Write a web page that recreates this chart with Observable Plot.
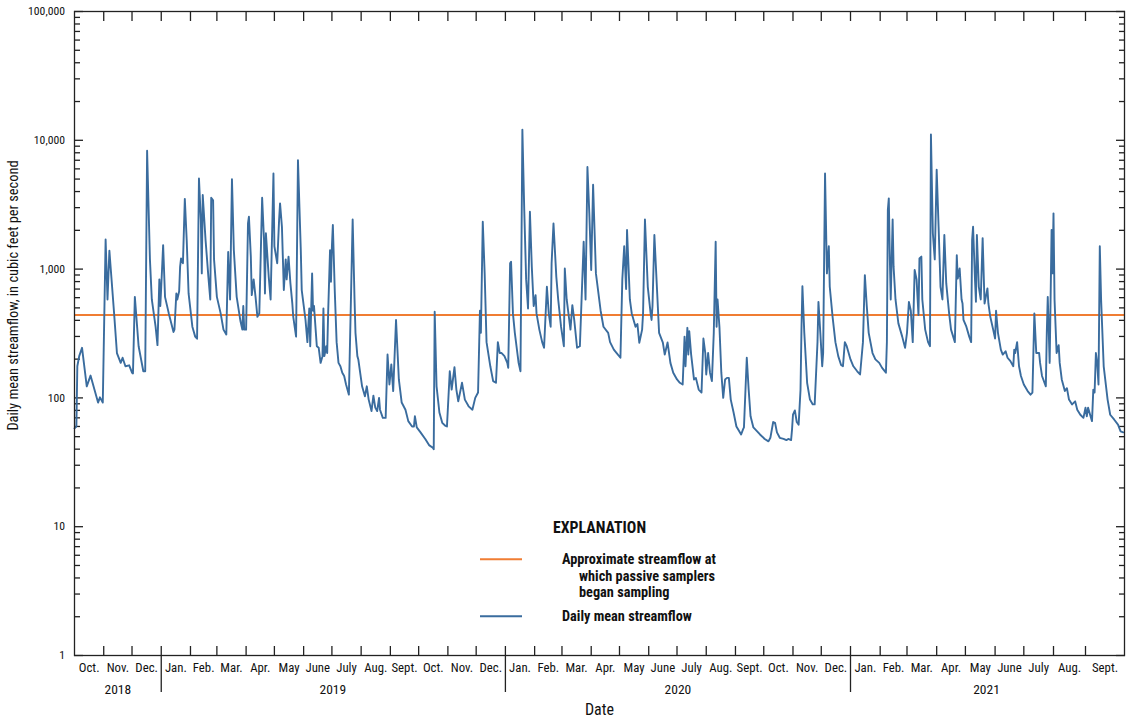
<!DOCTYPE html>
<html>
<head>
<meta charset="utf-8">
<script src="https://cdn.jsdelivr.net/npm/d3@7"></script>
<script src="https://cdn.jsdelivr.net/npm/@observablehq/plot@0.6"></script>
<style>
  html, body { margin: 0; padding: 0; background: #fff; }
  #wrap { position: relative; width: 1130px; height: 725px; }
  svg { font-family: "Liberation Sans Narrow", "Roboto Condensed", "Arial Narrow", "Liberation Sans", sans-serif; }
</style>
</head>
<body>
<div id="wrap"></div>
<script>
// ---- Data ----
// waterDay: days since 2018-10-01 (start of water year 2019)
const waterDay = [0,2,3,5,8,13,17,25,27,30,33,35,37,42,45,49,51,54,58,61,62,64,68,73,75,77,80,82,86,88,90,91,92,94,96,98,100,105,106,108,109,111,112,113,115,117,119,121,125,128,130,132,134,135,136,139,142,144,145,147,148,151,155,158,161,163,165,167,169,172,176,178,179,180,182,184,185,187,188,190,192,194,196,199,201,202,203,206,208,211,212,215,217,218,220,222,224,225,227,229,231,232,235,237,240,241,245,247,249,250,252,253,254,256,257,259,261,263,264,265,267,268,269,271,272,273,274,276,278,280,282,284,286,288,291,295,297,298,300,301,305,308,310,312,315,317,319,321,323,324,327,330,332,334,336,338,341,344,347,351,354,358,360,361,363,367,372,376,380,381,382,384,387,390,393,395,398,400,403,405,407,411,414,418,422,425,428,430,431,433,435,437,441,444,447,449,451,453,456,459,460,462,463,465,467,471,473,475,477,479,481,483,485,487,489,490,493,496,498,501,503,505,506,508,511,513,516,519,520,522,526,528,530,533,536,540,542,544,546,548,550,553,558,561,566,568,572,575,579,581,583,585,586,589,591,595,597,599,602,603,605,608,611,612,613,615,618,620,624,626,629,632,635,639,642,645,647,648,650,651,652,654,657,659,662,665,667,669,670,672,674,676,678,680,681,682,684,686,688,690,692,694,696,699,702,705,707,709,710,713,715,717,720,724,727,732,736,738,741,743,745,748,752,755,757,760,761,762,764,766,768,770,771,772,774,777,780,783,785,788,789,791,793,794,796,798,800,801,804,807,810,813,815,817,819,823,826,830,833,836,838,840,842,846,849,853,856,860,861,862,863,864,865,867,868,870,873,877,880,882,884,886,888,890,892,894,895,897,898,901,904,906,907,909,911,913,915,917,919,921,923,926,928,932,934,935,937,939,940,941,944,947,949,950,951,953,954,955,957,959,961,963,966,967,969,972,974,975,977,980,982,985,987,990,993,994,995,997,999,1001,1004,1008,1011,1013,1015,1017,1020,1021,1023,1027,1028,1029,1031,1033,1034,1035,1036,1038,1040,1041,1043,1046,1048,1050,1053,1056,1058,1061,1064,1066,1067,1068,1071,1072,1073,1074,1075,1076,1077,1078,1080,1083,1085,1088,1091,1093,1095];
// Daily mean streamflow, cubic feet per second
const flow = [58,60,176,211,245,123,149,92,101,92,1700,581,1390,453,223,187,205,176,179,157,155,609,252,161,161,8300,1190,581,357,257,832,517,729,1535,609,525,453,325,339,647,581,672,1040,1210,1110,3510,1680,647,357,299,288,5050,2420,926,3760,1680,871,581,3580,3420,1190,609,453,339,311,1360,581,4990,1400,609,395,339,517,339,339,2260,2550,1250,628,832,609,426,453,3580,1680,647,1900,871,581,5520,1505,1110,2420,3240,2130,688,1190,832,1250,774,541,426,299,7000,1400,688,403,271,495,252,926,475,517,320,252,245,187,211,495,211,252,223,453,1400,797,1505,2200,688,271,187,176,157,148,127,106,2430,581,320,211,199,123,103,123,97,79,104,84,79,100,81,70,70,217,127,182,113,403,139,92,81,66,60,60,72,59,54,48,43,41,40,466,123,77,64,61,60,161,116,173,116,94,131,97,86,81,100,110,475,320,2330,926,271,176,135,131,271,223,223,211,187,171,1110,1140,453,320,187,161,12100,2870,832,495,2790,1040,517,628,453,339,271,245,729,453,357,1110,2260,871,581,357,252,1010,581,339,525,403,245,252,1630,581,6200,2710,983,4520,926,475,357,320,271,237,223,205,832,1505,700,2010,581,453,357,375,268,339,453,2430,729,453,403,517,1840,647,320,269,217,269,187,157,139,131,127,299,176,350,217,329,217,139,143,116,110,289,223,152,223,157,135,320,1630,357,581,357,157,100,139,143,143,97,77,60,55,52,57,59,205,116,72,59,55,52,48,46,49,65,64,54,49,48,47,48,47,57,74,80,65,62,116,339,737,320,131,97,89,89,271,557,320,176,223,5520,926,1505,729,426,271,211,180,176,271,252,199,176,161,152,271,898,517,320,223,199,187,171,157,271,2870,3540,1300,581,2430,1040,581,379,299,245,320,557,475,271,983,832,439,1210,1250,581,339,271,252,11100,1900,1190,5900,2130,729,581,1840,774,453,339,271,1280,846,1010,581,541,403,357,299,271,1680,2130,832,557,1840,729,581,1740,541,708,541,426,339,289,475,320,237,217,230,205,193,176,237,223,271,176,148,127,113,106,110,453,223,223,187,148,123,320,609,187,2010,926,2710,581,223,257,187,139,113,119,97,89,94,81,74,70,84,72,84,66,116,110,223,187,127,1505,581,176,97,74,68,62,55,54];
const samplerThreshold = 440; // approximate streamflow at which passive samplers began sampling

const monthNames = ["Oct.","Nov.","Dec.","Jan.","Feb.","Mar.","Apr.","May","June","July","Aug.","Sept."];
const years = [2018, 2019, 2020, 2021];
const yearLabelDates = ["2018-11-16", "2019-07-02", "2020-07-02", "2021-05-23"];
const yMajorTicks = [1, 10, 100, 1000, 10000, 100000];

const BLUE = "#3a6c9e";
const ORANGE = "#f07d33";
const AXIS = "#222";
const FONT = '"Liberation Sans Narrow", "Roboto Condensed", "Arial Narrow", "Liberation Sans", sans-serif';

// ---- derived tables ----
const start = Date.UTC(2018, 9, 1);
const series = waterDay.map((d, i) => ({date: new Date(start + d * 864e5), flow: flow[i]}));

const monthStarts = [];
const monthMids = [];
for (let i = 0; i <= 36; i++) {
  const y = 2018 + Math.floor((9 + i) / 12), m = (9 + i) % 12;
  monthStarts.push(new Date(Date.UTC(y, m, 1)));
  if (i < 36) {
    const a = Date.UTC(y, m, 1), b = Date.UTC(y, m + 1, 1);
    monthMids.push({date: new Date((a + b) / 2), label: monthNames[i % 12]});
  }
}
const innerMonthTicks = monthStarts.slice(1, -1);
const yearStarts = innerMonthTicks.filter(d => d.getUTCMonth() === 0);
const yearLabels = years.map((y, i) => ({date: new Date(yearLabelDates[i]), label: String(y)}));
const yMinorTicks = [];
for (let e = 0; e < 5; e++) for (let k = 2; k <= 9; k++) yMinorTicks.push(k * 10 ** e);

const fmt = d3.format(",");
const noLabel = () => "";

const chart = Plot.plot({
  width: 1130,
  height: 725,
  marginLeft: 74,
  marginRight: 6,
  marginTop: 11,
  marginBottom: 70,
  style: {fontFamily: FONT, fontSize: "12px", color: "#111", background: "white"},
  x: {
    type: "utc",
    domain: [new Date("2018-10-01"), new Date("2021-01-01"), new Date("2021-08-01"), new Date("2021-09-01"), new Date("2021-10-01")],
    range: [74, 850, 1053, 1085, 1124]
  },
  y: {type: "log", domain: [1, 100000]},
  marks: [
    // y axis labels
    Plot.axisY({anchor: "left", ticks: yMajorTicks, tickSize: 0, tickPadding: 9.5, tickFormat: fmt, label: null, fontSize: 11.7}),
    // y ticks inward, left and right
    Plot.axisY({anchor: "left", ticks: yMajorTicks, tickSize: -9, tickFormat: noLabel, label: null, stroke: AXIS, strokeWidth: 1.3}),
    Plot.axisY({anchor: "left", ticks: yMinorTicks, tickSize: -6, tickFormat: noLabel, label: null, stroke: AXIS, strokeWidth: 1.3}),
    Plot.axisY({anchor: "right", ticks: yMajorTicks, tickSize: -9, tickFormat: noLabel, label: null, stroke: AXIS, strokeWidth: 1.3}),
    Plot.axisY({anchor: "right", ticks: yMinorTicks, tickSize: -6, tickFormat: noLabel, label: null, stroke: AXIS, strokeWidth: 1.3}),
    // x month ticks inward, bottom and top
    Plot.axisX({anchor: "bottom", ticks: innerMonthTicks, tickSize: -9, tickFormat: noLabel, label: null, stroke: AXIS, strokeWidth: 1.3}),
    Plot.axisX({anchor: "top", ticks: innerMonthTicks, tickSize: -9, tickFormat: noLabel, label: null, stroke: AXIS, strokeWidth: 1.3}),
    // year separators below the axis
    Plot.axisX({anchor: "bottom", ticks: yearStarts, tickSize: 37, tickFormat: noLabel, label: null, stroke: AXIS, strokeWidth: 1.3}),
    // month and year labels
    Plot.text(monthMids, {x: "date", text: "label", frameAnchor: "bottom", dy: 16, fontSize: 12.8, fill: "#111"}),
    Plot.text(yearLabels, {x: "date", text: "label", frameAnchor: "bottom", dy: 38, fontSize: 13.5, fill: "#111"}),
    // axis titles
    Plot.text(["Date"], {frameAnchor: "bottom", dy: 59, fontSize: 16, fill: "#111"}),
    Plot.text(["Daily mean streamflow, in cubic feet per second"], {frameAnchor: "left", textAnchor: "middle", rotate: -90, dx: -61, dy: -38, fontSize: 14.4, fill: "#111"}),
    // data
    Plot.ruleY([samplerThreshold], {stroke: ORANGE, strokeWidth: 2}),
    Plot.line(series, {x: "date", y: "flow", stroke: BLUE, strokeWidth: 1.9, strokeLinejoin: "round", curve: "linear"}),
    Plot.frame({stroke: AXIS, strokeWidth: 1.3})
  ]
});

const wrap = document.getElementById("wrap");
wrap.appendChild(chart);

// ---- legend (EXPLANATION) ----
const legend = d3.select(wrap).append("svg")
  .attr("width", 340).attr("height", 120)
  .style("position", "absolute").style("left", "470px").style("top", "510px")
  .style("font-family", FONT);
legend.append("text").attr("x", 83).attr("y", 17.3).attr("dominant-baseline", "central")
  .attr("font-weight", "bold").attr("font-size", 15.8).attr("fill", "#111").text("EXPLANATION");
const items = [
  {color: ORANGE, y: 49.3, lines: ["Approximate streamflow at", "which passive samplers", "began sampling"]},
  {color: BLUE, y: 106.3, lines: ["Daily mean streamflow"]}
];
for (const it of items) {
  legend.append("line").attr("x1", 10).attr("x2", 52).attr("y1", it.y).attr("y2", it.y).attr("stroke", it.color).attr("stroke-width", 2);
  it.lines.forEach((t, i) => {
    legend.append("text").attr("x", i === 0 ? 92 : 109).attr("y", it.y + i * 16.3).attr("dominant-baseline", "central")
      .attr("font-weight", "bold").attr("font-size", 14.3).attr("fill", "#111").text(t);
  });
}
</script>
</body>
</html>
